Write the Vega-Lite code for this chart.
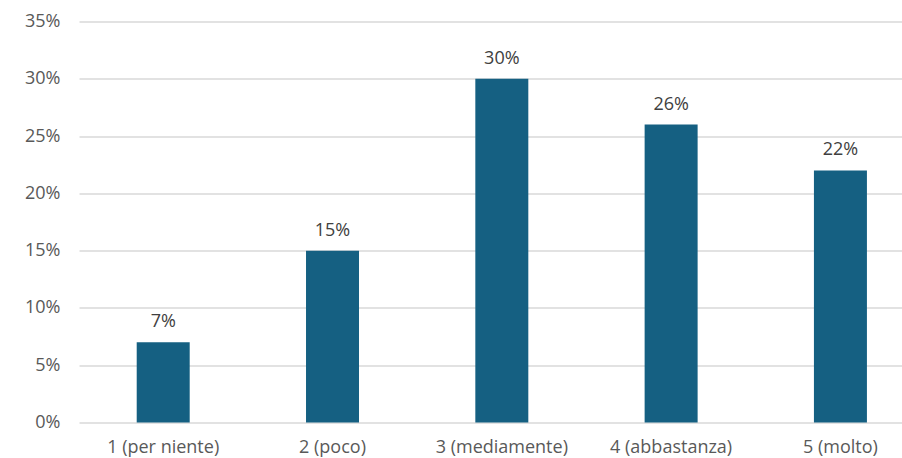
{
  "$schema": "https://vega.github.io/schema/vega-lite/v6.json",
  "autosize": {"type": "none"},
  "width": 823,
  "height": 401,
  "padding": {"left": 79, "top": 21.5, "right": 0, "bottom": 35.5},
  "background": "white",
  "config": {"view": {"stroke": null}, "font": "Open Sans"},
  "data": {"values": [
    {"cat": "1 (per niente)", "v": 0.07},
    {"cat": "2 (poco)", "v": 0.15},
    {"cat": "3 (mediamente)", "v": 0.30},
    {"cat": "4 (abbastanza)", "v": 0.26},
    {"cat": "5 (molto)", "v": 0.22}
  ]},
  "encoding": {
    "x": {"field": "cat", "type": "nominal", "sort": null,
      "scale": {"paddingInner": 0.687, "paddingOuter": 0.274, "align": 0.622},
      "axis": {"title": null, "labelAngle": 0, "domain": false, "ticks": false, "labelFont": "Open Sans", "labelFontSize": 18, "labelColor": "#595959", "labelPadding": 16}},
    "y": {"field": "v", "type": "quantitative",
      "scale": {"domain": [0, 0.35], "nice": false},
      "axis": {"title": null, "values": [0, 0.05, 0.1, 0.15, 0.2, 0.25, 0.3, 0.35], "format": ".0%", "domain": false, "ticks": false, "labelFont": "Open Sans", "labelFontSize": 18, "labelColor": "#595959", "labelPadding": 19, "gridColor": "#d9d9d9", "gridWidth": 1.5}}
  },
  "layer": [
    {"mark": {"type": "bar", "color": "#156082"}},
    {"mark": {"type": "text", "baseline": "alphabetic", "dy": -15, "font": "Open Sans", "fontSize": 18, "color": "#404040"},
     "encoding": {"text": {"field": "v", "type": "quantitative", "format": ".0%"}}}
  ]
}
